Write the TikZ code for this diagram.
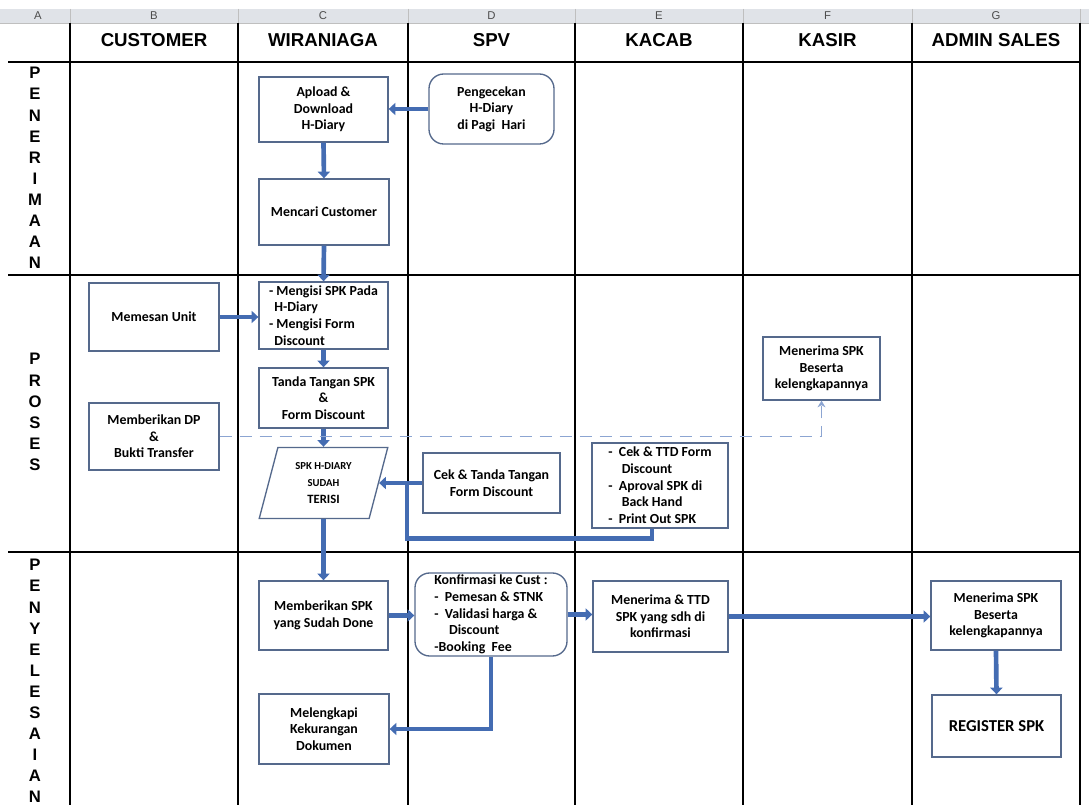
\documentclass[tikz,border=0pt]{standalone}
\usepackage{fontspec}
\setmainfont{Carlito}
\newfontfamily\hdrfont{Liberation Sans}
\usetikzlibrary{arrows.meta,shapes.geometric,calc}
\definecolor{arrowblue}{RGB}{68,108,178}
\definecolor{boxline}{RGB}{85,105,140}
\definecolor{dashblue}{RGB}{140,165,210}
\definecolor{bandgray}{RGB}{224,227,232}
\tikzset{
  laneline/.style={line width=1.5pt,black},
  box/.style={draw=boxline,line width=1pt,fill=white,align=center,font=\bfseries\fontsize{10.4}{12.5}\selectfont,inner sep=2pt},
  rbox/.style={box,rounded corners=11pt},
  flow/.style={draw=arrowblue,line width=3.5pt,-{Triangle[width=9pt,length=5pt]}},
  flowline/.style={draw=arrowblue,line width=3.5pt},
  dashflow/.style={draw=dashblue,line width=1.2pt,dash pattern=on 9pt off 6pt,-{Stealth[width=6pt,length=5pt]}},
  colhead/.style={font=\hdrfont\bfseries\fontsize{14}{16}\selectfont},
  colletter/.style={font=\hdrfont\fontsize{8.5}{10}\selectfont,text=black!70},
  vlabel/.style={font=\hdrfont\bfseries\fontsize{12.5}{15.8}\selectfont,align=center}
}
\begin{document}
\begin{tikzpicture}[x=0.75pt,y=-0.75pt]
\useasboundingbox (0,0) rectangle (1089,805);
\fill[white] (0,0) rectangle (1089,805);
% spreadsheet column band
\fill[bandgray] (0,9) rectangle (1089,23);
\draw[black!25,line width=0.6pt] (0,23) -- (1089,23);
\foreach \x in {70,238,408,575,743,912,1080}{\draw[black!25,line width=0.6pt] (\x,9) -- (\x,23);}
\node[colletter] (cA) at (38,16) {A};
\node[colletter] (cB) at (154,16) {B};
\node[colletter] (cC) at (323,16) {C};
\node[colletter] (cD) at (491.5,16) {D};
\node[colletter] (cE) at (659,16) {E};
\node[colletter] (cF) at (827.5,16) {F};
\node[colletter] (cG) at (996,16) {G};
% lane grid
\foreach \x in {70,238,408,575,743,912,1080}{\draw[laneline] (\x,23) -- (\x,805);}
\foreach \y in {62,275,552}{\draw[laneline] (8,\y) -- (1080,\y);}
% headers
\node[colhead] (hB) at (154,40) {CUSTOMER};
\node[colhead] (hC) at (323,40) {WIRANIAGA};
\node[colhead] (hD) at (491.5,40) {SPV};
\node[colhead] (hE) at (659,40) {KACAB};
\node[colhead] (hF) at (827.5,40) {KASIR};
\node[colhead] (hG) at (996,40) {ADMIN SALES};
% lane labels
\node[vlabel] (l1) at (35,168) {P\\E\\N\\E\\R\\I\\M\\A\\A\\N};
\node[vlabel] (l2) at (35,412) {P\\R\\O\\S\\E\\S};
\node[vlabel] (l3) at (35,681) {P\\E\\N\\Y\\E\\L\\E\\S\\A\\I\\A\\N};
% boxes
\node[box,minimum width=96.75pt,minimum height=48.75pt] (upl) at (323.5,109.5) {Apload \&\\Download\\H-Diary};
\node[rbox,minimum width=93.75pt,minimum height=52.5pt] (peng) at (491.5,109) {Pengecekan\\H-Diary\\di Pagi\ \ Hari};
\node[box,minimum width=97.5pt,minimum height=49.5pt] (mencari) at (324,212) {Mencari Customer};
\node[box,minimum width=97.5pt,minimum height=51pt] (memesan) at (154,317) {Memesan Unit};
\node[box,minimum width=96.75pt,minimum height=50.25pt,align=left,inner sep=1pt] (mengisi) at (323.5,315.5) {- Mengisi SPK Pada\\\hspace*{4pt}H-Diary\\- Mengisi Form\\\hspace*{4pt}Discount};
\node[box,minimum width=96.75pt,minimum height=45pt] (tanda) at (323.5,398) {Tanda Tangan SPK\\\&\\Form Discount};
\node[box,minimum width=97.5pt,minimum height=50.25pt] (dp) at (154,436.5) {Memberikan DP\\\&\\Bukti Transfer};
\node[box,minimum width=87.75pt,minimum height=47.25pt] (kasir) at (821.5,368.5) {Menerima SPK\\Beserta\\kelengkapannya};
\node[box,shape=trapezium,trapezium left angle=75,trapezium right angle=105,trapezium stretches=true,minimum width=96.75pt,minimum height=53.25pt,font=\bfseries\fontsize{8}{13}\selectfont] (spk) at (323.5,483) {SPK H-DIARY\\SUDAH\\{\fontsize{9.5}{13}\selectfont TERISI}};
\node[box,minimum width=102.75pt,minimum height=45pt] (cek) at (491.5,483) {Cek \& Tanda Tangan\\Form Discount};
\node[box,minimum width=102pt,minimum height=63.75pt,align=left,inner sep=1pt] (kacab) at (660,485.5) {- \ Cek \& TTD Form\\\hspace*{10pt}Discount\\- \ Aproval SPK di\\\hspace*{10pt}Back Hand\\- \ Print Out SPK};
\node[box,minimum width=96.75pt,minimum height=51.75pt] (memberikan) at (323.5,615.5) {Memberikan SPK\\yang Sudah Done};
\node[rbox,minimum width=114pt,minimum height=62.25pt,align=left,inner sep=1pt] (konf) at (491,614.5) {Konfirmasi ke Cust :\\- \ Pemesan \& STNK\\- \ Validasi harga \&\\\hspace*{11pt}Discount\\-Booking\ \ Fee};
\node[box,minimum width=101.25pt,minimum height=53.25pt] (ttd) at (660.5,616.5) {Menerima \& TTD\\SPK yang sdh di\\konfirmasi};
\node[box,minimum width=97.5pt,minimum height=51.75pt] (admin) at (996,615.5) {Menerima SPK\\Beserta\\kelengkapannya};
\node[box,minimum width=96.75pt,minimum height=46.5pt,font=\bfseries\fontsize{12.5}{15}\selectfont] (register) at (996.5,726) {REGISTER SPK};
\node[box,minimum width=97.5pt,minimum height=52.5pt] (melengkapi) at (324,729) {Melengkapi\\Kekurangan\\Dokumen};
% connectors
\draw[flow] (peng.west) -- (upl.east |- peng.west);
\draw[flow] (upl.south) -- (mencari.north);
\draw[flow] (mencari.south) -- (mengisi.north);
\draw[flow] (memesan.east) -- (mengisi.west |- memesan.east);
\draw[flow] (mengisi.south) -- (tanda.north);
\draw[flow] (tanda.south) -- (tanda.south |- spk.north);
\draw[flow] (tanda.south |- spk.south) -- (memberikan.north);
\draw[dashflow] (dp.east) -| (kasir.south);
\draw[flow] (cek.west) -- (cek.west -| spk.east);
\coordinate (join) at (407,483);
\draw[flowline] ($(kacab.south)+(-8,0)$) -- ++(0,10) -| (join);
\draw[flow] (memberikan.east) -- (konf.west |- memberikan.east);
\draw[flow] (konf.east) -- (ttd.west |- konf.east);
\draw[flow] (ttd.east) -- (admin.west |- ttd.east);
\draw[flow] (admin.south) -- (register.north);
\draw[flow] (konf.south) |- (melengkapi.east);
\end{tikzpicture}
\end{document}
